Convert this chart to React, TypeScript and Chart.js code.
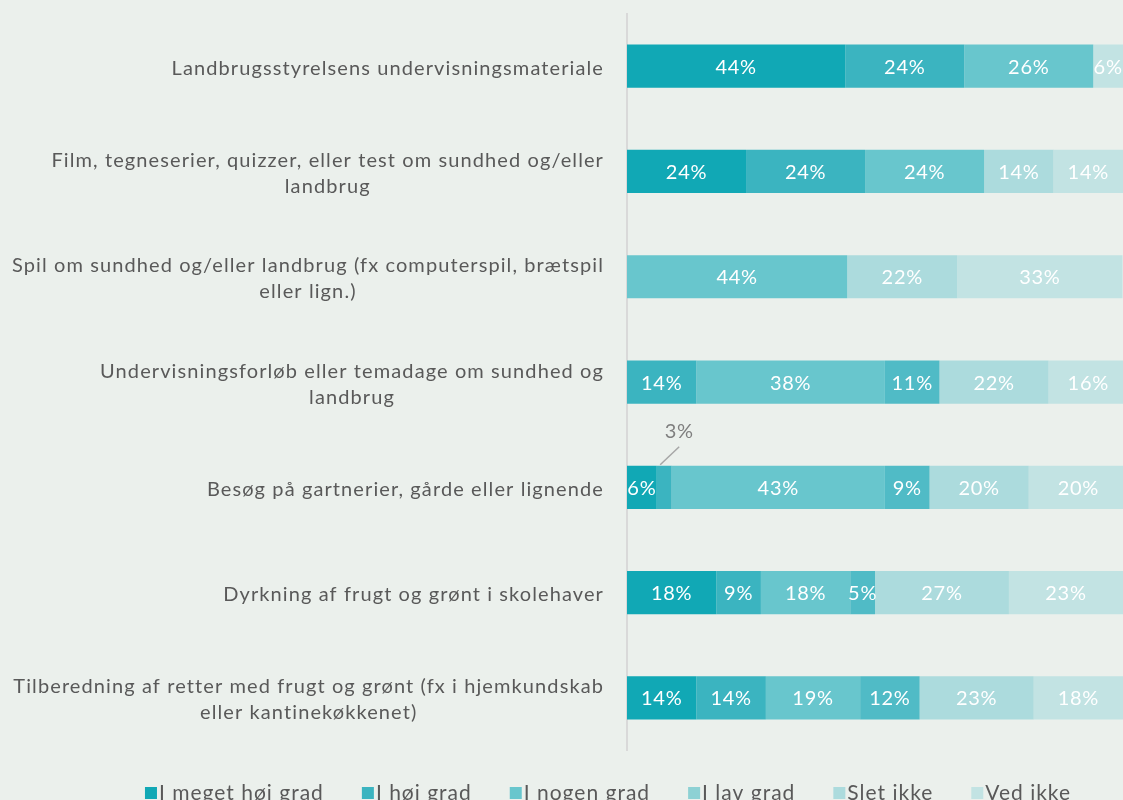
import React, { useEffect, useRef } from 'react';
import { Chart, registerables } from 'chart.js';
Chart.register(...registerables);

const categories: string[][] = [
  ['Landbrugsstyrelsens undervisningsmateriale'],
  ['Film, tegneserier, quizzer, eller test om sundhed og/eller', 'landbrug'],
  ['Spil om sundhed og/eller landbrug (fx computerspil, brætspil', 'eller lign.)'],
  ['Undervisningsforløb eller temadage om sundhed og', 'landbrug'],
  ['Besøg på gartnerier, gårde eller lignende'],
  ['Dyrkning af frugt og grønt i skolehaver'],
  ['Tilberedning af retter med frugt og grønt (fx i hjemkundskab', 'eller kantinekøkkenet)'],
];

const seriesNames = ['I meget høj grad', 'I høj grad', 'I nogen grad', 'I lav grad', 'Slet ikke', 'Ved ikke'];

const megetHoejGrad = [44, 24, 0, 0, 6, 18, 14];
const hoejGrad = [24, 24, 0, 14, 3, 9, 14];
const nogenGrad = [26, 24, 44.4, 38, 43, 18, 19];
const lavGrad = [0, 0, 0, 11, 9, 5, 12];
const sletIkke = [0, 14, 22.2, 22, 20, 27, 23];
const vedIkke = [6, 14, 33.3, 16, 20, 23, 18];

const barColors = ['#11A8B5', '#3BB4C0', '#68C6CD', '#50BBC6', '#ACDBDD', '#C2E3E3'];
const legendColors = ['#11A8B5', '#3BB4C0', '#68C6CD', '#8DD1D4', '#ACDBDD', '#C2E3E3'];

const BG = '#EBF0EC';
const FONT = 'Lato, "Open Sans", sans-serif';

export default function App() {
  const ref = useRef<HTMLCanvasElement | null>(null);

  useEffect(() => {
    document.body.style.margin = '0';
    document.body.style.background = BG;
    document.body.style.overflow = 'hidden';
    const canvas = ref.current;
    if (!canvas) return;
    const values = [megetHoejGrad, hoejGrad, nogenGrad, lavGrad, sletIkke, vedIkke];

    const bgPlugin = {
      id: 'bg',
      beforeDraw(chart: any) {
        const c = chart.ctx;
        c.save();
        c.fillStyle = BG;
        c.fillRect(0, 0, chart.width, chart.height);
        c.restore();
      },
    };

    const segLabels = {
      id: 'segLabels',
      afterDatasetsDraw(chart: any) {
        const c = chart.ctx;
        c.save();
        c.font = `20px ${FONT}`;
        (c as any).letterSpacing = '0.7px';
        c.textAlign = 'center';
        c.textBaseline = 'middle';
        chart.data.datasets.forEach((ds: any, di: number) => {
          const meta = chart.getDatasetMeta(di);
          meta.data.forEach((bar: any, i: number) => {
            const v = ds.data[i];
            if (!v) return;
            const txt = Math.round(v) + '%';
            const p = bar.getProps(['x', 'y', 'base', 'height'], true);
            const w = Math.abs(p.x - p.base);
            const cx = (p.x + p.base) / 2;
            if (w >= 20) {
              c.fillStyle = '#FFFFFF';
              c.fillText(txt, cx, p.y + 1);
            } else {
              const top = p.y - p.height / 2;
              c.strokeStyle = '#A6A6A6';
              c.lineWidth = 1.5;
              c.beginPath();
              c.moveTo(cx - 4, top - 1);
              c.lineTo(cx + 15, top - 19);
              c.stroke();
              c.fillStyle = '#7F7F7F';
              c.fillText(txt, cx + 15, top - 34);
            }
          });
        });
        c.restore();
      },
    };

    const catLabels = {
      id: 'catLabels',
      afterDraw(chart: any) {
        const c = chart.ctx;
        const ys = chart.scales.y;
        c.save();
        c.font = `20px ${FONT}`;
        (c as any).letterSpacing = '1.1px';
        c.fillStyle = '#595959';
        c.textAlign = 'center';
        c.textBaseline = 'middle';
        const right = chart.chartArea.left - 23;
        const lh = 26;
        categories.forEach((lines, i) => {
          const y = ys.getPixelForValue(i) + 2;
          const widest = Math.max(...lines.map((l) => c.measureText(l).width));
          const cx = right - widest / 2;
          const top = y - ((lines.length - 1) * lh) / 2;
          lines.forEach((l, k) => c.fillText(l, cx, top + k * lh));
        });
        c.restore();
      },
    };

    const legendPlugin = {
      id: 'customLegend',
      afterDraw(chart: any) {
        const c = chart.ctx;
        c.save();
        c.font = `21px ${FONT}`;
        (c as any).letterSpacing = '1px';
        c.textBaseline = 'middle';
        c.textAlign = 'left';
        const box = 12;
        const gap = 2;
        const spacing = 38;
        const widths = seriesNames.map((n) => box + gap + c.measureText(n).width);
        const total = widths.reduce((a, b) => a + b, 0) + spacing * (seriesNames.length - 1);
        let x = 608 - total / 2;
        const y = 793;
        seriesNames.forEach((n, i) => {
          c.fillStyle = legendColors[i];
          c.fillRect(x, y - 6, box, box);
          c.fillStyle = '#595959';
          c.fillText(n, x + box + gap, y);
          x += widths[i] + spacing;
        });
        c.restore();
      },
    };

    const chart = new Chart(canvas, {
      type: 'bar',
      data: {
        labels: categories.map((l) => l.join(' ')),
        datasets: seriesNames.map((name, i) => ({
          label: name,
          data: values[i],
          backgroundColor: barColors[i],
          borderWidth: 0,
          barPercentage: 0.41,
          categoryPercentage: 1,
        })),
      },
      options: {
        indexAxis: 'y',
        responsive: false,
        animation: false,
        layout: { padding: { top: 13.5, bottom: 49.4, left: 0, right: 0 } },
        plugins: {
          legend: { display: false },
          tooltip: { enabled: false },
        },
        scales: {
          x: {
            stacked: true,
            min: 0,
            max: 100,
            display: false,
          },
          y: {
            stacked: true,
            grid: { display: false },
            ticks: { display: false },
            border: { display: true, color: '#D9D9D9', width: 2 },
            afterFit: (scale: any) => {
              scale.width = 627;
            },
          },
        },
      },
      plugins: [bgPlugin, segLabels, catLabels, legendPlugin],
    });

    return () => chart.destroy();
  }, []);

  return (
    <div style={{ width: 1123, height: 800, background: BG }}>
      <canvas ref={ref} width={1123} height={800} style={{ display: 'block' }} />
    </div>
  );
}
